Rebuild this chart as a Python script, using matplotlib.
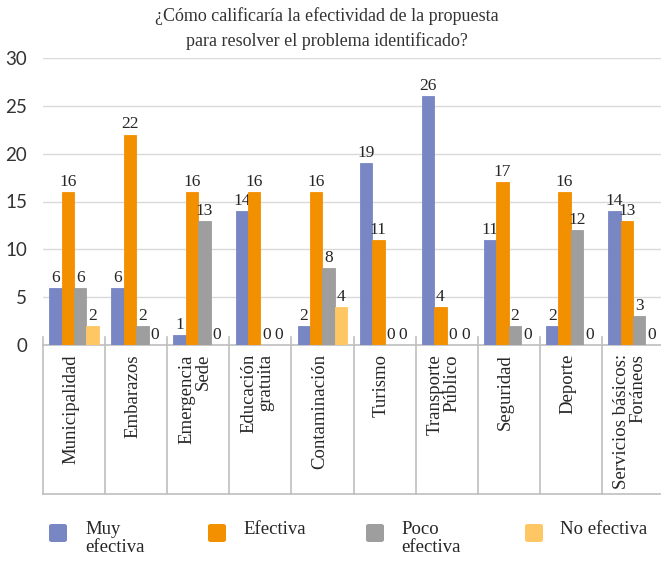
import matplotlib
matplotlib.use("Agg")
import matplotlib.pyplot as plt
import matplotlib.transforms as mtransforms
from matplotlib.patches import FancyBboxPatch
import numpy as np

# Survey data: rating of each proposal's effectiveness
categories = ["Municipalidad", "Embarazos", "Emergencia\nSede", "Educación\ngratuita",
              "Contaminación", "Turismo", "Transporte\nPúblico", "Seguridad",
              "Deporte", "Servicios básicos:\nForáneos"]
muy_efectiva = [6, 6, 1, 14, 2, 19, 26, 11, 2, 14]
efectiva = [16, 22, 16, 16, 16, 11, 4, 17, 16, 13]
poco_efectiva = [6, 2, 13, 0, 8, 0, 0, 2, 12, 3]
no_efectiva = [2, 0, 0, 0, 4, 0, 0, 0, 0, 0]
series_labels = ["Muy\nefectiva", "Efectiva", "Poco\nefectiva", "No efectiva"]
y_ticks = [0, 5, 10, 15, 20, 25, 30]

colors = ["#7886C4", "#F29000", "#9E9E9E", "#FFC764"]
SERIF = "Liberation Serif"
W, H = 661, 562

fig = plt.figure(figsize=(W / 100, H / 100), dpi=100)
ax_left, ax_bottom, ax_top = 43, 345, 58
ax = fig.add_axes([ax_left / W, 1 - ax_bottom / H, 621 / W, (ax_bottom - ax_top) / H])

x = np.arange(len(categories))
width = 0.2
offsets = [-1.5, -0.5, 0.5, 1.5]
all_series = [muy_efectiva, efectiva, poco_efectiva, no_efectiva]
for vals, off, col in zip(all_series, offsets, colors):
    bars = ax.bar(x + off * width, vals, width, color=col, edgecolor=col,
                  linewidth=0.6, zorder=3)
    ax.bar_label(bars, padding=1.5, fontsize=12.5, family=SERIF, color="#262626")

ax.set_xlim(-0.5, len(categories) - 0.5)
ax.set_ylim(0, 30)
ax.set_yticks(y_ticks)
ax.set_yticklabels([str(t) for t in y_ticks], family="Lato", fontsize=13.5, color="#333333")
ax.tick_params(axis="y", length=0, pad=11.5)
ax.set_xticks([])
ax.yaxis.grid(True, color="#D9D9D9", linewidth=1, zorder=0)
ax.set_axisbelow(True)
for s in ["left", "right", "top"]:
    ax.spines[s].set_visible(False)
ax.spines["bottom"].set_color("#BFBFBF")
ax.spines["bottom"].set_linewidth(1.2)

# Category band below the axis with vertical separators
trans = mtransforms.blended_transform_factory(ax.transData, ax.transAxes)
ph = ax_bottom - ax_top
top_frac = 8 / ph
bot_frac = -(494 - ax_bottom) / ph
for b in np.arange(-0.5, len(categories), 1.0):
    ax.plot([b, b], [top_frac, bot_frac], color="#BFBFBF", lw=1.2,
            transform=trans, clip_on=False, zorder=4)
ax.plot([-0.5, len(categories) - 0.5], [bot_frac, bot_frac], color="#BFBFBF",
        lw=1.2, transform=trans, clip_on=False)
for i, cat in enumerate(categories):
    ax.text(i - 0.05, -9 / ph, cat, rotation=90, va="top", ha="center",
            multialignment="right", fontsize=13.5, family=SERIF,
            color="#262626", linespacing=1.0, transform=trans)

# Title
fig.text(327 / W, 1 - 7 / H, "¿Cómo calificaría la efectividad de la propuesta\n"
         "para resolver el problema identificado?", ha="center", va="top",
         fontsize=13, family=SERIF, color="#333333", linespacing=1.5)

# Legend
sq_x = [49, 208, 366, 525]
txt_x = [85, 243, 401, 560]
for sx, tx, col, lab in zip(sq_x, txt_x, colors, series_labels):
    fig.patches.append(FancyBboxPatch(((sx) / W, 1 - 542 / H), 18 / W, 18 / H,
                                      boxstyle="round,pad=0,rounding_size=0.004",
                                      transform=fig.transFigure, facecolor=col,
                                      edgecolor="none"))
    fig.text(tx / W, 1 - 521 / H, lab, ha="left", va="top", fontsize=13.5,
             family=SERIF, color="#262626", linespacing=1.1)

fig.savefig("out.png", dpi=100, facecolor="white")
